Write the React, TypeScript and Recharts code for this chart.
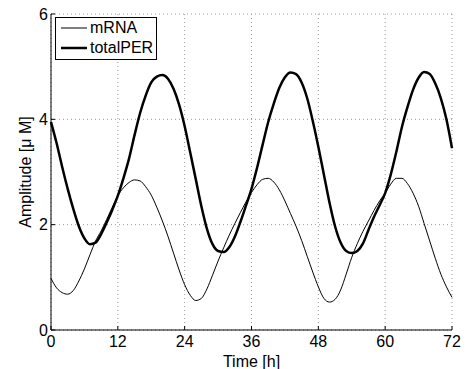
import { LineChart, Line, XAxis, YAxis, CartesianGrid, Label } from "recharts"

const hours = [
  0, 1, 2, 3, 4, 5, 6, 7, 8, 9, 10, 11, 12, 13, 14, 15, 16, 17, 18, 19, 20, 21, 22, 23, 24,
  25, 26, 27, 28, 29, 30, 31, 32, 33, 34, 35, 36, 37, 38, 39, 40, 41, 42, 43, 44, 45, 46, 47, 48,
  49, 50, 51, 52, 53, 54, 55, 56, 57, 58, 59, 60, 61, 62, 63, 64, 65, 66, 67, 68, 69, 70, 71, 72,
]

const mRNA = [
  0.98, 0.8, 0.71, 0.68, 0.75, 0.93, 1.16, 1.43, 1.69, 1.88, 2.1, 2.33, 2.55, 2.7, 2.8, 2.85, 2.83,
  2.72, 2.56, 2.33, 2.07, 1.78, 1.46, 1.14, 0.86, 0.66, 0.56, 0.6, 0.78, 1.04, 1.31, 1.56, 1.8, 2.02,
  2.23, 2.43, 2.61, 2.76, 2.86, 2.88, 2.81, 2.66, 2.45, 2.21, 1.97, 1.7, 1.4, 1.1, 0.82, 0.6, 0.53,
  0.58, 0.76, 1.06, 1.38, 1.64, 1.87, 2.07, 2.27, 2.45, 2.6, 2.77, 2.88, 2.88, 2.78, 2.6, 2.35, 2.02,
  1.69, 1.36, 1.06, 0.82, 0.62,
]

const totalPER = [
  3.95, 3.55, 3.1, 2.68, 2.3, 1.97, 1.74, 1.63, 1.66, 1.82, 2.04, 2.28, 2.55, 2.88, 3.25, 3.7, 4.12,
  4.45, 4.7, 4.81, 4.84, 4.77, 4.58, 4.28, 3.87, 3.37, 2.86, 2.35, 1.92, 1.63, 1.5, 1.48, 1.57, 1.77,
  2.05, 2.36, 2.68, 3.08, 3.52, 3.95, 4.3, 4.6, 4.8, 4.89, 4.86, 4.7, 4.4, 3.97, 3.48, 2.95, 2.42,
  1.97, 1.66, 1.5, 1.46, 1.5, 1.64, 1.9, 2.15, 2.37, 2.6, 2.95, 3.38, 3.85, 4.23, 4.56, 4.79, 4.9,
  4.86, 4.68, 4.4, 4.0, 3.45,
]

const xTicks = [0, 12, 24, 36, 48, 60, 72]
const yTicks = [0, 2, 4, 6]

const data = hours.map((t, i) => ({ t, mRNA: mRNA[i], totalPER: totalPER[i] }))

const font = "'Liberation Sans', Arial, Helvetica, sans-serif"

function LegendBox() {
  const items = [
    { name: "mRNA", w: 1 },
    { name: "totalPER", w: 2.5 },
  ]
  return (
    <div
      style={{
        position: "absolute",
        left: 55,
        top: 17,
        width: 100,
        height: 41,
        border: "1px solid #000",
        background: "#fff",
        fontFamily: font,
        fontSize: 16,
        lineHeight: "20px",
        color: "#000",
      }}
    >
      {items.map((it) => (
        <div key={it.name} style={{ display: "flex", alignItems: "center", height: 20 }}>
          <svg width={34} height={20}>
            <line x1={5} x2={31} y1={10} y2={10} stroke="#000" strokeWidth={it.w} />
          </svg>
          <span>{it.name}</span>
        </div>
      ))}
    </div>
  )
}

export default function App() {
  return (
    <div style={{ position: "absolute", left: 0, top: 0, width: 467, height: 369, background: "#fff" }}>
      <LineChart
        width={467}
        height={369}
        data={data}
        margin={{ top: 14, right: 15, left: 0, bottom: 0 }}
        style={{ fontFamily: font }}
      >
        <CartesianGrid stroke="#999" strokeDasharray="1 3" />
        <XAxis
          dataKey="t"
          type="number"
          domain={[0, 72]}
          ticks={xTicks}
          height={39}
          stroke="#000"
          tickSize={-4}
          tickMargin={10}
          tick={{ fill: "#000", fontSize: 16 }}
          interval={0}
        >
          <Label value="Time [h]" position="insideBottom" offset={2} fill="#000" fontSize={16} />
        </XAxis>
        <YAxis
          type="number"
          domain={[0, 6]}
          ticks={yTicks}
          width={51}
          stroke="#000"
          tickSize={-4}
          tickMargin={7}
          tick={{ fill: "#000", fontSize: 16 }}
          interval={0}
        >
          <Label value="Amplitude [μ M]" angle={-90} position="insideLeft" offset={25} fill="#000" fontSize={16} style={{ textAnchor: "middle" }} />
        </YAxis>
        <Line type="monotone" dataKey="mRNA" stroke="#000" strokeWidth={1} dot={false} isAnimationActive={false} />
        <Line type="monotone" dataKey="totalPER" stroke="#000" strokeWidth={2.5} dot={false} isAnimationActive={false} />
      </LineChart>
      <LegendBox />
    </div>
  )
}
